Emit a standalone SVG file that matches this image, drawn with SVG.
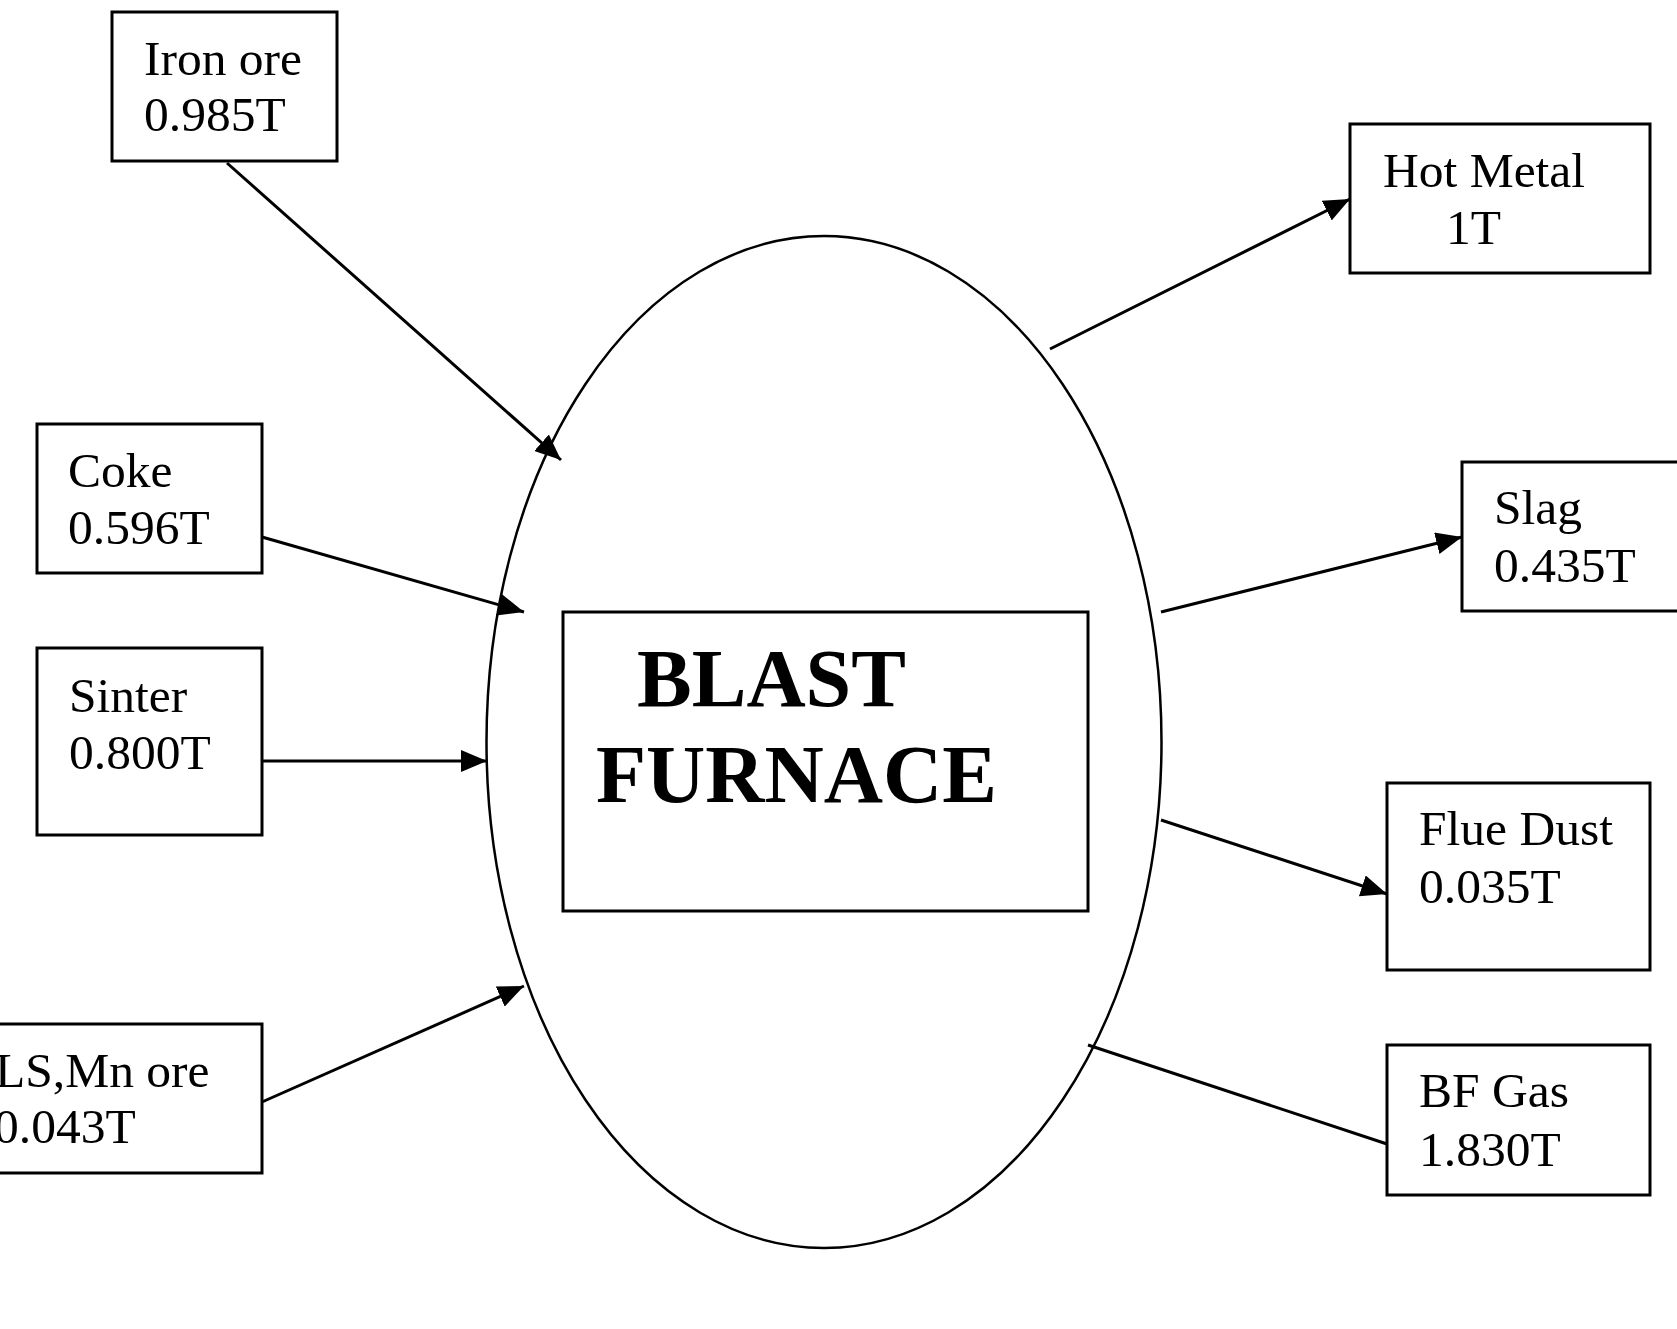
<svg xmlns="http://www.w3.org/2000/svg" width="1677" height="1329" viewBox="0 0 1677 1329">
<style>
.box{fill:#fff;stroke:#000;stroke-width:3}
.t{font-family:"Liberation Serif","Times New Roman",serif;font-size:49.5px;fill:#000}
.tb{font-family:"Liberation Serif","Times New Roman",serif;font-size:82px;font-weight:bold;fill:#000}
.c{stroke:#000;stroke-width:3;fill:none}
</style>
<defs>
<marker id="ah" markerUnits="userSpaceOnUse" markerWidth="28" markerHeight="22" refX="26" refY="11" orient="auto">
<path d="M0,0 L26,11 L0,22 Z" fill="#000"/>
</marker>
</defs>
<rect width="1677" height="1329" fill="#fff"/>
<g id="furnace">
<ellipse cx="824" cy="742" rx="337.5" ry="506" fill="none" stroke="#000" stroke-width="2.5"/>
<rect class="box" x="563" y="612" width="525" height="299"/>
<text class="tb" x="637" y="706">BLAST</text>
<text class="tb" x="596" y="802">FURNACE</text>
</g>
<g id="iron-ore">
<rect class="box" x="112" y="12" width="225" height="149"/>
<text class="t" x="144" y="75">Iron ore</text>
<text class="t" x="144" y="131">0.985T</text>
</g>
<g id="coke">
<rect class="box" x="37" y="424" width="225" height="149"/>
<text class="t" x="68" y="487">Coke</text>
<text class="t" x="68" y="544">0.596T</text>
</g>
<g id="sinter">
<rect class="box" x="37" y="648" width="225" height="187"/>
<text class="t" x="69" y="712">Sinter</text>
<text class="t" x="69" y="769">0.800T</text>
</g>
<g id="ls-mn-ore">
<rect class="box" x="-35" y="1024" width="297" height="149"/>
<text class="t" x="-5" y="1087">LS,Mn ore</text>
<text class="t" x="-6" y="1143">0.043T</text>
</g>
<g id="hot-metal">
<rect class="box" x="1350" y="124" width="300" height="149"/>
<text class="t" x="1383" y="187">Hot Metal</text>
<text class="t" x="1446" y="244">1T</text>
</g>
<g id="slag">
<rect class="box" x="1462" y="462" width="230" height="149"/>
<text class="t" x="1494" y="524">Slag</text>
<text class="t" x="1494" y="582">0.435T</text>
</g>
<g id="flue-dust">
<rect class="box" x="1387" y="783" width="263" height="187"/>
<text class="t" x="1419" y="845">Flue Dust</text>
<text class="t" x="1419" y="903">0.035T</text>
</g>
<g id="bf-gas">
<rect class="box" x="1387" y="1045" width="263" height="150"/>
<text class="t" x="1419" y="1107">BF Gas</text>
<text class="t" x="1419" y="1166">1.830T</text>
</g>
<g id="connectors">
<line class="c" x1="227" y1="163" x2="561" y2="460" marker-end="url(#ah)"/>
<line class="c" x1="262" y1="537" x2="524" y2="612" marker-end="url(#ah)"/>
<line class="c" x1="262" y1="761" x2="487" y2="761" marker-end="url(#ah)"/>
<line class="c" x1="262" y1="1102" x2="524" y2="986" marker-end="url(#ah)"/>
<line class="c" x1="1050" y1="349" x2="1350" y2="199" marker-end="url(#ah)"/>
<line class="c" x1="1161" y1="612" x2="1462" y2="537" marker-end="url(#ah)"/>
<line class="c" x1="1161" y1="820" x2="1387" y2="894" marker-end="url(#ah)"/>
<line class="c" x1="1088" y1="1045" x2="1387" y2="1144"/>
</g>
</svg>
